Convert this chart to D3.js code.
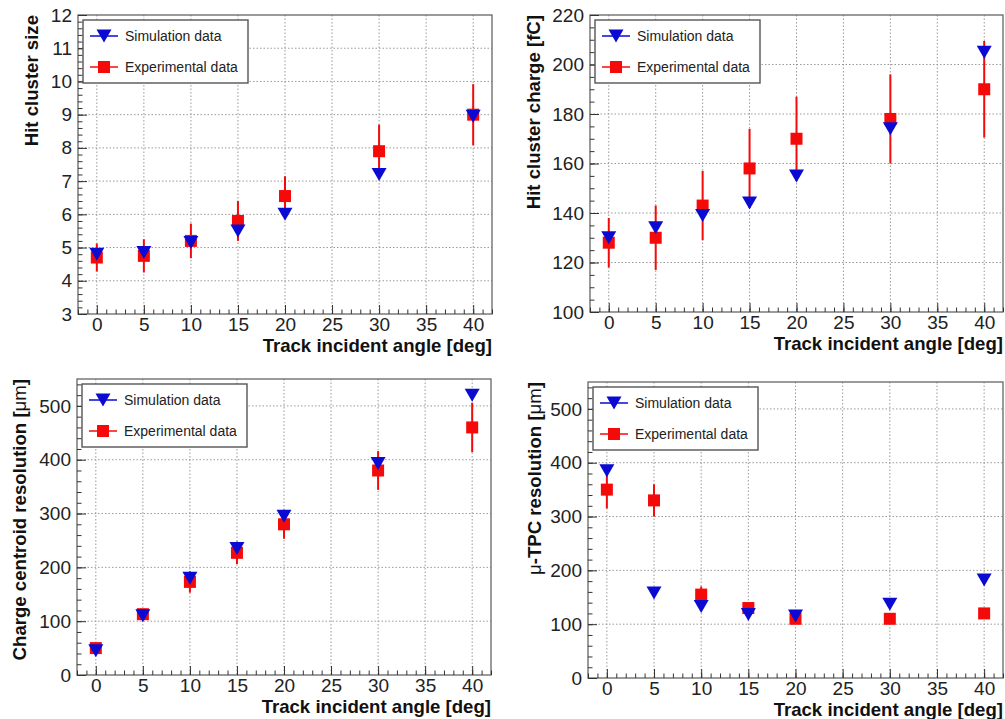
<!DOCTYPE html>
<html>
<head>
<meta charset="utf-8">
<script src="https://cdn.jsdelivr.net/npm/d3@7"></script>
<style>
  body { margin: 0; background: #fff; }
  text { font-family: "Liberation Sans", Arial, sans-serif; }
</style>
</head>
<body>
<svg id="chart" width="1005" height="719"></svg>
<script>
  // track incident angles [deg]
  const angles = [0, 5, 10, 15, 20, 30, 40];
  const xTicks = [0, 5, 10, 15, 20, 25, 30, 35, 40];

  // hit cluster size
  const sizeSim = [4.8, 4.85, 5.15, 5.5, 6.0, 7.2, 8.95];
  const sizeExp = [4.7, 4.75, 5.2, 5.8, 6.55, 7.9, 9.0];
  const sizeErr = [0.42, 0.5, 0.52, 0.6, 0.6, 0.8, 0.92];
  const sizeTicks = [3, 4, 5, 6, 7, 8, 9, 10, 11, 12];

  // hit cluster charge [fC]
  const chargeSim = [130, 134, 139, 144, 155, 174, 205];
  const chargeExp = [128, 130, 143, 158, 170, 178, 190];
  const chargeErr = [10, 13, 14, 16, 17, 18, 19.5];
  const chargeTicks = [100, 120, 140, 160, 180, 200, 220];

  // charge centroid resolution [um]
  const centroidSim = [45, 110, 180, 235, 295, 393, 520];
  const centroidExp = [50, 113, 173, 227, 280, 380, 460];
  const centroidErr = [8, 8, 20, 21, 27, 36, 46];

  // u-TPC resolution [um]
  const tpcSim = [385, 158, 133, 118, 115, 137, 182];
  const tpcExp = [350, 330, 155, 130, 110, 110, 120];
  const tpcErr = [35, 30, 15, 6, 5, 5, 5];

  const resTicks = [0, 100, 200, 300, 400, 500];

  const blue = "#0a0ad2";
  const red = "#f50a0a";

  const panels = [
    {
      frame: { l: 78, r: 492, t: 15, b: 314 },
      yDomain: [3, 12], yTicks: sizeTicks, yMinor: 0.2, titleX: 38,
      title: [{ t: "Hit cluster size", b: true }],
      sim: sizeSim, exp: sizeExp, err: sizeErr
    },
    {
      frame: { l: 590, r: 1003, t: 15, b: 312 },
      yDomain: [100, 220], yTicks: chargeTicks, yMinor: 5, titleX: 540,
      title: [{ t: "Hit cluster charge [fC]", b: true }],
      sim: chargeSim, exp: chargeExp, err: chargeErr
    },
    {
      frame: { l: 77, r: 491, t: 379, b: 675 },
      yDomain: [0, 550], yTicks: resTicks, yMinor: 20, titleX: 26,
      title: [{ t: "Charge centroid resolution [", b: true }, { t: "μm", b: false }, { t: "]", b: true }],
      sim: centroidSim, exp: centroidExp, err: centroidErr
    },
    {
      frame: { l: 588, r: 1003, t: 382, b: 678 },
      yDomain: [0, 550], yTicks: resTicks, yMinor: 20, titleX: 541,
      title: [{ t: "μ", b: false }, { t: "-TPC resolution [", b: true }, { t: "μm", b: false }, { t: "]", b: true }],
      sim: tpcSim, exp: tpcExp, err: tpcErr
    }
  ];

  const svg = d3.select("#chart");

  function triangle(w, h) {
    return `M${-w / 2},${-h / 2}L${w / 2},${-h / 2}L0,${h / 2}Z`;
  }

  panels.forEach((p) => {
    const f = p.frame;
    const x = d3.scaleLinear().domain([-2, 42]).range([f.l, f.r]);
    const y = d3.scaleLinear().domain(p.yDomain).range([f.b, f.t]);
    const g = svg.append("g");

    // dotted grid
    const grid = g.append("g").attr("stroke", "#999").attr("stroke-dasharray", "1.5,2");
    grid.selectAll(".gx").data(xTicks).join("line")
      .attr("x1", (d) => x(d)).attr("x2", (d) => x(d))
      .attr("y1", f.t).attr("y2", f.b);
    grid.selectAll(".gy").data(p.yTicks.filter((v) => v > p.yDomain[0] && v < p.yDomain[1])).join("line")
      .attr("x1", f.l).attr("x2", f.r)
      .attr("y1", (d) => y(d)).attr("y2", (d) => y(d));

    // frame
    g.append("rect")
      .attr("x", f.l).attr("y", f.t)
      .attr("width", f.r - f.l).attr("height", f.b - f.t)
      .attr("fill", "none").attr("stroke", "#666").attr("stroke-width", 1.3);

    // axes
    const yMinorVals = d3.range(p.yDomain[0], p.yDomain[1] + 1e-9, p.yMinor);
    const xMinorVals = d3.range(-2, 42.001, 1);

    const styleAxis = (sel) => {
      sel.select(".domain").remove();
      sel.selectAll("line").attr("stroke", "#333");
      sel.selectAll("text").attr("font-size", 19).attr("fill", "#222")
        .attr("font-family", "'Liberation Sans', Arial, sans-serif");
    };

    g.append("g").attr("transform", `translate(${f.l},0)`)
      .call(d3.axisLeft(y).tickValues(yMinorVals).tickSize(-4.5).tickFormat(""))
      .call(styleAxis);
    g.append("g").attr("transform", `translate(${f.l},0)`)
      .call(d3.axisLeft(y).tickValues(p.yTicks).tickSize(-9).tickPadding(6))
      .call(styleAxis);
    g.append("g").attr("transform", `translate(0,${f.b})`)
      .call(d3.axisBottom(x).tickValues(xMinorVals).tickSize(-4.5).tickFormat(""))
      .call(styleAxis);
    g.append("g").attr("transform", `translate(0,${f.b})`)
      .call(d3.axisBottom(x).tickValues(xTicks).tickSize(-9).tickPadding(4))
      .call(styleAxis);

    // axis titles
    g.append("text")
      .attr("x", f.r).attr("y", f.b + 38)
      .attr("text-anchor", "end")
      .attr("font-size", 18.6).attr("font-weight", "bold").attr("fill", "#111")
      .text("Track incident angle [deg]");

    const yt = g.append("text")
      .attr("transform", `translate(${p.titleX},${f.t}) rotate(-90)`)
      .attr("text-anchor", "end")
      .attr("font-size", 18.6).attr("fill", "#111");
    p.title.forEach((s) => {
      yt.append("tspan").attr("font-weight", s.b ? "bold" : "normal").text(s.t);
    });

    // experimental data: error bars + squares
    const pts = angles.map((a, i) => ({ a, sim: p.sim[i], exp: p.exp[i], err: p.err[i] }));
    g.append("g").selectAll("line").data(pts).join("line")
      .attr("x1", (d) => x(d.a)).attr("x2", (d) => x(d.a))
      .attr("y1", (d) => y(d.exp - d.err)).attr("y2", (d) => y(d.exp + d.err))
      .attr("stroke", red).attr("stroke-width", 2);
    g.append("g").selectAll("rect").data(pts).join("rect")
      .attr("x", (d) => x(d.a) - 6).attr("y", (d) => y(d.exp) - 6)
      .attr("width", 12).attr("height", 12)
      .attr("fill", red);

    // simulation data: inverted triangles
    g.append("g").selectAll("path").data(pts).join("path")
      .attr("transform", (d) => `translate(${x(d.a)},${y(d.sim)})`)
      .attr("d", triangle(15, 13))
      .attr("fill", blue);

    // legend
    const lg = g.append("g").attr("transform", `translate(${f.l + 5},${f.t + 5})`);
    lg.append("rect").attr("width", 165).attr("height", 63)
      .attr("fill", "#fff").attr("stroke", "#555").attr("stroke-width", 1.4);
    const entries = [
      { label: "Simulation data", color: blue, sym: "tri", yy: 16 },
      { label: "Experimental data", color: red, sym: "sq", yy: 47 }
    ];
    entries.forEach((e) => {
      lg.append("line").attr("x1", 7).attr("x2", 35).attr("y1", e.yy).attr("y2", e.yy)
        .attr("stroke", e.color).attr("stroke-width", 1.5);
      if (e.sym === "tri") {
        lg.append("path").attr("transform", `translate(21,${e.yy})`)
          .attr("d", triangle(15, 13)).attr("fill", e.color);
      } else {
        lg.append("rect").attr("x", 15).attr("y", e.yy - 6)
          .attr("width", 12).attr("height", 12).attr("fill", e.color);
      }
      lg.append("text").attr("x", 42).attr("y", e.yy).attr("dy", "0.35em")
        .attr("font-size", 14).attr("fill", "#222").text(e.label);
    });
  });
</script>
</body>
</html>
